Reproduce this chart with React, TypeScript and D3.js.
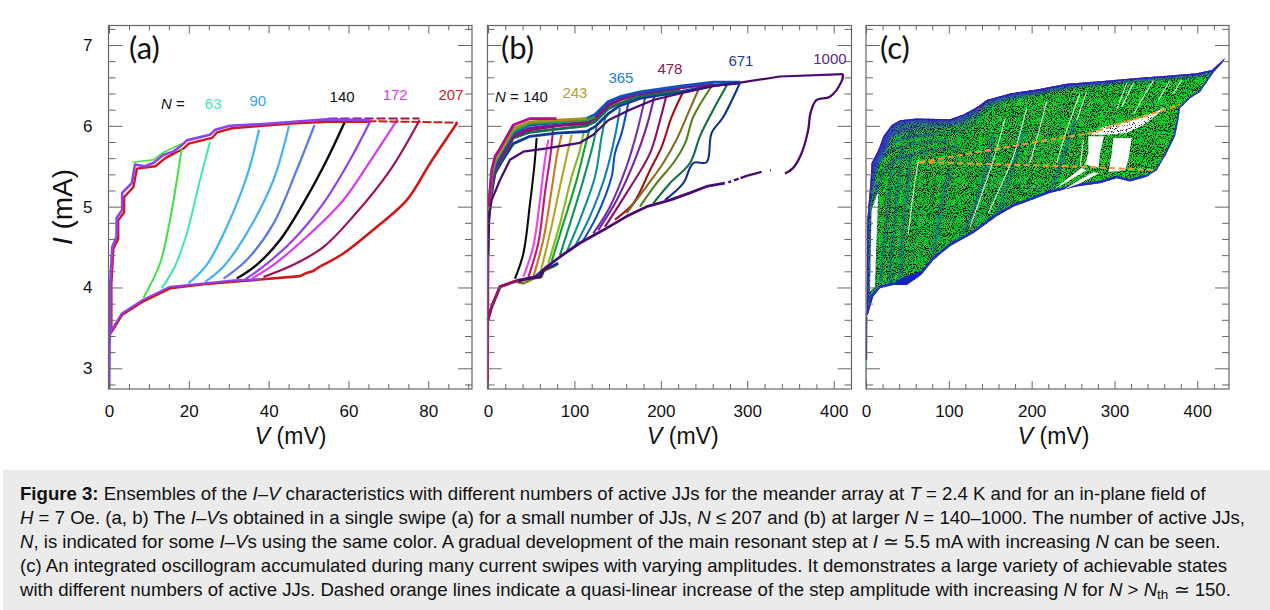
import React, { useRef, useEffect } from "react";
import * as d3 from "d3";

type Pt = [number, number];

// ---- panel (a), [V mV, I mA]
const aBase: Pt[] = [[0.1, 2.75], [0.2, 3.3], [0.3, 3.45]];
const aUpper: Pt[] = [[0.3, 3.45], [0.3, 4.05], [0.8, 4.5], [1.9, 4.63], [1.9, 4.86], [3.3, 4.96], [3.3, 5.17], [5.7, 5.29], [6.5, 5.52], [9, 5.5], [11.1, 5.54], [13.6, 5.64], [16, 5.68], [18.2, 5.76], [19.5, 5.82], [25.3, 5.89], [26.6, 5.95], [30.3, 6.0], [37.8, 6.02], [46.2, 6.05], [54.6, 6.08], [65.4, 6.07]];
const aUpperRed: Pt[] = [[0.6, 3.45], [0.6, 4.05], [1.1, 4.48], [2.3, 4.6], [2.3, 4.83], [3.8, 4.93], [3.8, 5.12], [6.1, 5.24], [7, 5.47], [11.6, 5.5], [14.1, 5.6], [18.7, 5.72], [20, 5.78], [25.8, 5.85], [27.1, 5.92], [30.8, 5.97], [38.3, 6.0], [46.7, 6.03], [55, 6.05], [65.4, 6.05]];
const aUpperGreen: Pt[] = [[5.9, 5.55], [11.1, 5.58], [13.6, 5.67], [18.2, 5.78]];
const aLower: Pt[] = [[0.3, 3.45], [1, 3.5], [3.2, 3.68], [8.6, 3.85], [15.3, 4.01], [23.6, 4.05], [31.2, 4.09], [38, 4.1]];
const aLowerRed: Pt[] = [[0.3, 3.43], [1, 3.48], [3.2, 3.66], [8.6, 3.83], [15.3, 3.99], [23.6, 4.04], [31, 4.07], [47.9, 4.14], [49.5, 4.18], [51, 4.2], [52.9, 4.26]];
const aRedRise: Pt[] = [[52.9, 4.26], [58.7, 4.42], [67.1, 4.75], [74.6, 5.08], [80.5, 5.54], [87.3, 6.04]];
const aRedTail: Pt[] = [[62, 6.06], [87.3, 6.04]];
const aMaroonTail: Pt[] = [[55, 6.09], [77.8, 6.09]];
const a40: Pt[] = [[8.6, 3.87], [12.8, 4.3], [15.3, 4.84], [17, 5.33], [18.2, 5.72]];
const a63: Pt[] = [[13.2, 3.99], [16.5, 4.26], [19.5, 4.67], [22.8, 5.33], [25.3, 5.8]];
const a90: Pt[] = [[19.9, 4.05], [24.5, 4.28], [29.5, 4.75], [34.5, 5.37], [37.6, 5.95]];
const a105: Pt[] = [[24.1, 4.07], [28.7, 4.26], [34.5, 4.67], [41.2, 5.33], [45.1, 6.0]];
const a120: Pt[] = [[28.7, 4.11], [34.5, 4.34], [41.2, 4.79], [47, 5.45], [51.5, 6.01]];
const a140: Pt[] = [[32, 4.11], [37, 4.28], [42.9, 4.59], [49.6, 5.12], [54.6, 5.58], [59, 6.04]];
const a155: Pt[] = [[34.1, 4.1], [38.7, 4.26], [46.2, 4.59], [53.7, 5.04], [60.4, 5.58], [65.4, 6.05]];
const a172: Pt[] = [[35.8, 4.11], [41.2, 4.28], [49.6, 4.63], [58.7, 5.08], [66.2, 5.62], [72.3, 6.08]];
const a190: Pt[] = [[38.7, 4.13], [46.2, 4.28], [53.7, 4.5], [61.2, 4.88], [70.4, 5.45], [77.8, 6.07]];
const aRises: [Pt[], string, number][] = [
  [a40, "#3fe23f", 2], [a63, "#3ce8b0", 2], [a90, "#3fb4f4", 2.2], [a105, "#45b0f5", 2.2], [a120, "#5a78ee", 2.2],
  [a140, "#0a0a0a", 2.4], [a155, "#9040f0", 2.2], [a172, "#d43cf4", 2.2], [a190, "#a01060", 2.2],
];
const aLabels: [string, number, number, string][] = [
  ["63", 26.1, 6.21, "#3ce8b0"], ["90", 37.3, 6.25, "#3aa0f0"], ["140", 58.4, 6.3, "#111"], ["172", 71.7, 6.32, "#d040f0"], ["207", 85.7, 6.32, "#d02030"],
];

// ---- panel (b)
const bandV = [0.8, 4.2, 8.1, 13.9, 19.7, 29.3, 48.6, 79.4, 114.1, 123.8, 139.2, 152.7, 175.8, 222.1, 260.6, 291.5];
const bandLow = [4.84, 5.17, 5.41, 5.52, 5.62, 5.78, 5.87, 5.91, 5.93, 5.99, 6.15, 6.25, 6.34, 6.42, 6.5, 6.53];
const bandGreen = [4.86, 5.23, 5.43, 5.56, 5.66, 5.85, 5.92, 5.96, 6.0, 6.05, 6.21, 6.28, 6.37, 6.44];
const bandMaroon = [4.88, 5.25, 5.45, 5.58, 5.68, 5.87, 5.95, 6.0, 6.03, 6.09, 6.25, 6.32, 6.4, 6.47, 6.52];
const bandPurple = [4.9, 5.29, 5.48, 5.6, 5.7, 5.89, 5.97, 6.01, 6.05, 6.11, 6.28, 6.34, 6.4, 6.47, 6.53];
const bandBlue = [4.92, 5.33, 5.5, 5.64, 5.74, 5.91, 6.01, 6.04, 6.09, 6.14, 6.3, 6.36, 6.42, 6.49, 6.54, 6.54];
const bandLime = [4.94, 5.37, 5.54, 5.66, 5.76, 5.93, 6.03, 6.05, 6.07, 6.11];
const bandOlive = [4.96, 5.41, 5.58, 5.68, 5.78, 5.97, 6.05, 6.07, 6.09];
const bandTop = [5.0, 5.45, 5.62, 5.72, 5.83, 6.01, 6.09, 6.09];
const bBands: [number[], string][] = [
  [bandLow, "#0a3a9a"], [bandGreen, "#107050"], [bandMaroon, "#901060"], [bandPurple, "#7a1a90"],
  [bandBlue, "#1050c0"], [bandLime, "#20a040"], [bandOlive, "#a89020"], [bandTop, "#b0108a"],
];
const b140: Pt[] = [[31.2, 4.11], [40.9, 4.42], [48.6, 5.04], [53.6, 5.5], [56.3, 5.85]];
const b160: Pt[] = [[40.9, 4.13], [52.4, 4.51], [60.1, 5.08], [65.9, 5.58], [69.8, 5.83]];
const b190: Pt[] = [[46.7, 4.13], [58.2, 4.55], [65.9, 5.17], [72.5, 5.66], [76.3, 6.09]];
const b215: Pt[] = [[52.4, 4.13], [64, 4.59], [73.6, 5.21], [80.2, 5.66], [85.2, 5.89]];
const b243: Pt[] = [[59.4, 4.13], [71.7, 4.67], [83.3, 5.25], [91.8, 5.66], [96.8, 5.89]];
const b270: Pt[] = [[69.8, 4.3], [83.3, 4.79], [96.8, 5.37], [106.4, 5.7], [111, 5.95]];
const b290: Pt[] = [[73.6, 4.32], [87.1, 4.79], [102.6, 5.33], [112.2, 5.74], [117.2, 5.95]];
const b310: Pt[] = [[83.3, 4.4], [94.9, 4.79], [110.3, 5.33], [121.8, 5.78], [125.7, 5.99]];
const b340: Pt[] = [[91, 4.44], [106.4, 4.84], [123.8, 5.37], [131.5, 5.87], [136.5, 6.14]];
const b365: Pt[] = [[100.6, 4.51], [118, 4.88], [135.3, 5.37], [146.9, 5.87], [152.7, 6.22]];
const b385: Pt[] = [[108.3, 4.55], [125.7, 4.88], [143, 5.37], [146.9, 5.66], [154.6, 5.91], [162.3, 6.28]];
const b420: Pt[] = [[121.8, 4.67], [141.1, 5.0], [160.4, 5.5], [172, 5.91], [182.4, 6.38]];
const b445: Pt[] = [[127.6, 4.71], [148.8, 5.08], [170, 5.58], [183.5, 5.99], [193.2, 6.4]];
const b478: Pt[] = [[135.3, 4.75], [160.4, 5.17], [187.4, 5.66], [199, 6.07], [207.4, 6.42]];
const b510: Pt[] = [[146.9, 4.84], [168.1, 5.04], [187.4, 5.45], [200.9, 5.74], [212.5, 6.11], [226.7, 6.44]];
const b560: Pt[] = [[160.4, 4.92], [183.5, 5.25], [202.8, 5.54], [218.2, 5.83], [231.7, 6.16], [245.2, 6.49]];
const b600: Pt[] = [[175.8, 5.0], [195.1, 5.29], [214.4, 5.54], [227.9, 5.78], [237.5, 6.11], [258.7, 6.49]];
const b635: Pt[] = [[191.2, 5.04], [210.5, 5.29], [233.7, 5.54], [245.2, 5.87], [258.7, 6.16], [276.8, 6.51]];
const b671: Pt[] = [[204.7, 5.08], [226, 5.29], [237.5, 5.54], [252.9, 5.55], [258.7, 5.91], [272.2, 6.11], [291.5, 6.53]];
const bRises: [Pt[], string][] = [
  [b140, "#0a0a0a"], [b160, "#f040f0"], [b190, "#c01870"], [b215, "#c87820"], [b243, "#b0a820"],
  [b270, "#88b820"], [b290, "#10a030"], [b310, "#109060"], [b340, "#109090"], [b365, "#1080b0"],
  [b385, "#1050c0"], [b420, "#7030b0"], [b445, "#8020a0"], [b478, "#901060"], [b510, "#a01010"],
  [b560, "#807020"], [b600, "#508018"], [b635, "#107040"], [b671, "#103090"],
];
const bVertical: Pt[] = [[0.3, 2.75], [0.4, 3.6], [0.6, 4.2], [0.8, 4.75]];
const b1000Up: Pt[] = [[0.3, 4.4], [1.5, 4.9], [4.2, 5.08], [13.9, 5.33], [25.4, 5.58], [40.9, 5.68], [67.9, 5.72], [106.4, 5.79], [121.8, 5.89], [139.2, 6.07], [164.3, 6.2], [191.2, 6.32], [222.1, 6.4], [260.6, 6.49], [295.4, 6.54], [337.8, 6.61], [411, 6.64]];
const b1000Down: Pt[] = [[411, 6.64], [409.1, 6.55], [395.6, 6.36], [380.2, 6.32], [373.2, 6.16], [370.5, 5.95], [362.8, 5.66], [353.2, 5.48], [343.6, 5.41]];
const b1000Scrap: Pt[] = [[316.6, 5.43], [299.2, 5.38], [278, 5.3]];
const b1000Dot: Pt[] = [[326.2, 5.45], [327.2, 5.45]];
const b1000Low: Pt[] = [[274, 5.29], [252.9, 5.25], [233.7, 5.17], [210.5, 5.08], [183.5, 5.0], [160.4, 4.88], [133.4, 4.71], [106.4, 4.55], [83.3, 4.38], [65.9, 4.24], [60.1, 4.13], [35.1, 4.09], [13.9, 4.01], [4.2, 3.76], [0, 3.6]];
const bWiggleNavy: Pt[] = [[35.1, 4.07], [44.7, 4.11], [54.4, 4.13], [64, 4.22], [73.6, 4.26], [81.4, 4.3]];
const bWiggleOlive: Pt[] = [[33.2, 4.07], [40.9, 4.05], [52.4, 4.11], [62.1, 4.13], [64, 4.2], [79.4, 4.28]];
const bLabels: [string, number, number, string][] = [
  ["243", 100.6, 6.35, "#b0a030"], ["365", 153.8, 6.53, "#2080c0"], ["478", 210.5, 6.64, "#8a1a50"], ["671", 292.7, 6.74, "#1a3a9a"], ["1000", 395.6, 6.77, "#5a2a80"],
];

// ---- panel (c)
const cEdgeTop: Pt[] = [[0.8, 3.64], [1.6, 4.84], [5.6, 5.33], [6.8, 5.54], [14.9, 5.7], [20.9, 5.87], [31, 6.01], [41.1, 6.07], [61.2, 6.09], [101.4, 6.08], [117.6, 6.14], [133.7, 6.23], [145.7, 6.32], [173.9, 6.4], [206.1, 6.45], [242.4, 6.52], [282.6, 6.55], [322.9, 6.59], [363.1, 6.62], [399.4, 6.65], [417.5, 6.69], [433.6, 6.84]];
const cEdgeRight: Pt[] = [[433.6, 6.84], [429.5, 6.77], [419.5, 6.66], [403.4, 6.42], [391.3, 6.34], [379.2, 6.22], [377.2, 6.07], [373.2, 5.87], [363.1, 5.66], [351, 5.45], [339, 5.37]];
const cEdgeLow: Pt[] = [[339, 5.37], [318.8, 5.31], [302.7, 5.35], [282.6, 5.29], [254.4, 5.25], [222.2, 5.17], [194, 5.06], [177.9, 5.0], [157.8, 4.88], [129.6, 4.67], [101.4, 4.51], [81.3, 4.34], [67.2, 4.16], [49.1, 4.03], [33, 4.03], [16.9, 3.99], [8.9, 3.89], [2.8, 3.68], [0.8, 3.64]];
const cBlob: Pt[] = [[35, 4.07], [45.1, 4.13], [67.2, 4.2], [63.2, 4.11], [49.1, 4.03], [37, 4.03]];
const cStem: Pt[] = [[0.5, 3.1], [0.6, 3.45], [0.8, 3.64]];
const cStemPale: Pt[] = [[0.5, 2.75], [0.5, 3.1]];
const cStreaks: Pt[][] = [
  [[8.9, 3.95], [12.9, 5.3]],
  [[16.9, 4.01], [22.9, 4.63], [29, 5.25], [33, 5.58]],
  [[28, 4.03], [33, 4.7], [40, 5.35], [44, 5.72]],
  [[41.1, 4.09], [45.1, 4.75], [51.1, 5.37], [53.1, 5.66]],
  [[81.3, 4.34], [89.4, 4.92], [101.4, 5.45]],
  [[117.6, 4.67], [133.7, 5.08], [145.7, 5.5], [153.8, 5.87]],
  [[157.8, 4.88], [177.9, 5.5], [190, 5.95]],
  [[222.2, 5.17], [238.3, 5.62], [254.4, 6.07]],
];
const cRibs: Pt[][] = [
  [[6.8, 5.54], [31, 5.91], [61.2, 5.99]],
  [[5.6, 5.37], [20.9, 5.72], [49.1, 5.85], [85.3, 5.89]],
  [[6.8, 5.25], [20.9, 5.62], [49.1, 5.76], [101.4, 5.81]],
  [[12.9, 5.21], [29, 5.54], [61.2, 5.66], [109.5, 5.74]],
];
const cHoleSliver: Pt[] = [[4.8, 3.95], [6.8, 4.96], [14.9, 5.19], [12.1, 4.42], [10.9, 4.01]];
const cHoleBand: Pt[] = [[268.5, 5.89], [286.6, 5.99], [314.8, 6.05], [334.9, 6.11], [361.1, 6.23], [343, 6.07], [330.9, 5.99], [314.8, 5.91], [294.7, 5.89], [278.6, 5.89]];
const cHoleLeft: Pt[] = [[268.5, 5.87], [287.4, 5.87], [282.6, 5.66], [280.6, 5.48], [264.5, 5.52], [268.5, 5.66]];
const cHoleRight: Pt[] = [[298.7, 5.85], [320.9, 5.85], [316.8, 5.58], [312.8, 5.45], [292.7, 5.43], [296.7, 5.66]];
const cHoleWedgeA: Pt[] = [[226.2, 5.21], [260.5, 5.48], [266.5, 5.45], [246.4, 5.33]];
const cHoleWedgeB: Pt[] = [[238.3, 5.21], [274.6, 5.43], [280.6, 5.41], [258.5, 5.29]];
const cWhiteLines: Pt[][] = [
  [[63.2, 5.58], [57.2, 5.17], [51.1, 4.67]],
  [[194, 6.22], [186, 5.91], [177.9, 5.62], [165.9, 5.33], [147.7, 4.92]],
  [[167.9, 6.09], [153.8, 5.58], [125.6, 4.75]],
  [[218.2, 6.3], [208.1, 5.91], [198, 5.54]],
  [[258.5, 6.4], [242.4, 5.95], [230.3, 5.54]],
  [[266.5, 6.42], [254.4, 6.07]],
  [[314.8, 6.53], [302.7, 6.2]],
  [[347, 6.56], [334.9, 6.36], [322.9, 6.14]],
  [[366.3, 6.55], [353.1, 6.32]],
  [[381.2, 6.57], [371.2, 6.4]],
  [[322.9, 6.53], [308.8, 6.24]],
  [[262.5, 5.83], [258.5, 5.5]],
];
const cStepTop: Pt[] = [[64.4, 5.55], [177.9, 5.75], [270.5, 5.91], [379.2, 6.26]];
const cStepLow: Pt[] = [[64.4, 5.55], [173.9, 5.52], [270.5, 5.49], [351, 5.45]];

const iMajor = [3, 4, 5, 6, 7];
const iMinor = [2.8, 3.2, 3.4, 3.6, 3.8, 4.2, 4.4, 4.6, 4.8, 5.2, 5.4, 5.6, 5.8, 6.2, 6.4, 6.6, 6.8, 7.2];
const aVMajor = [0, 20, 40, 60, 80];
const aVMinor = [5, 10, 15, 25, 30, 35, 45, 50, 55, 65, 70, 75, 85, 90];
const bVMajor = [0, 100, 200, 300, 400];
const bVMinor = [20, 40, 60, 80, 120, 140, 160, 180, 220, 240, 260, 280, 320, 340, 360, 380, 420];
const cVMinor = [20, 40, 60, 80, 120, 140, 160, 180, 220, 240, 260, 280, 320, 340, 360, 380, 420];

const captionLines: [string, string][][] = [
  [["b", "Figure 3:"], ["", " Ensembles of the "], ["i", "I–V"], ["", " characteristics with different numbers of active JJs for the meander array at "], ["i", "T"], ["", " = 2.4 K and for an in-plane field of"]],
  [["i", "H"], ["", " = 7 Oe. (a, b) The "], ["i", "I–V"], ["", "s obtained in a single swipe (a) for a small number of JJs, "], ["i", "N"], ["", " ≤ 207 and (b) at larger "], ["i", "N"], ["", " = 140–1000. The number of active JJs,"]],
  [["i", "N"], ["", ", is indicated for some "], ["i", "I–V"], ["", "s using the same color. A gradual development of the main resonant step at "], ["i", "I"], ["", " ≃ 5.5 mA with increasing "], ["i", "N"], ["", " can be seen."]],
  [["", "(c) An integrated oscillogram accumulated during many current swipes with varying amplitudes. It demonstrates a large variety of achievable states"]],
  [["", "with different numbers of active JJs. Dashed orange lines indicate a quasi-linear increase of the step amplitude with increasing "], ["i", "N"], ["", " for "], ["i", "N"], ["", " > "], ["i", "N"], ["s", "th"], ["", " ≃ 150."]],
];

const FONT = "'Liberation Sans', Arial, sans-serif";
const H = 610, W = 1270;

const App = () => {
  const ref = useRef<SVGSVGElement>(null);

  useEffect(() => {
    const svg = d3.select(ref.current);
    svg.selectAll("*").remove();
    svg.append("rect").attr("width", W).attr("height", H).attr("fill", "#fff");

    const defs = svg.append("defs");
    // black speckle of the accumulated oscillogram
    const addSpeckle = (id: string, gain: number, cut: number, seed: number) => {
      const f = defs.append("filter").attr("id", id)
        .attr("filterUnits", "userSpaceOnUse").attr("x", 860).attr("y", 20).attr("width", 380).attr("height", 380)
        .attr("color-interpolation-filters", "sRGB");
      f.append("feTurbulence").attr("type", "fractalNoise").attr("baseFrequency", 0.95).attr("numOctaves", 2).attr("seed", seed);
      f.append("feColorMatrix").attr("type", "matrix")
        .attr("values", `0 0 0 0 0  0 0 0 0 0  0 0 0 0 0  ${gain} 0 0 0 ${cut}`);
      f.append("feGaussianBlur").attr("stdDeviation", 0.35);
    };
    addSpeckle("speckle", 7, -3.45, 7);
    addSpeckle("sparse", 9, -5.4, 3);
    defs.append("filter").attr("id", "soft").append("feGaussianBlur").attr("stdDeviation", 1);

    const yOf = d3.scaleLinear().domain([3, 7]).range([368.3, 45]);
    const frameTop = 25.5, frameBottom = 389;

    const panel = (left: number, right: number, x: d3.ScaleLinear<number, number>, major: number[], minor: number[], tag: string, tagX: number, showI: boolean) => {
      const g = svg.append("g");
      const marks = g.append("g");
      const ax = g.append("g").attr("font-family", FONT);
      const style = (s: any) => {
        s.select(".domain").remove();
        s.selectAll("line").attr("stroke", "#666").attr("stroke-width", 1);
      };
      ax.append("g").attr("transform", `translate(0,${frameBottom})`)
        .call(d3.axisBottom(x).tickValues(major).tickSize(-8).tickFormat(d3.format("d") as any)).call(style)
        .call((s: any) => s.selectAll("text").attr("font-family", FONT).attr("font-size", 17).attr("fill", "#111").attr("y", 16).attr("dy", "0.71em"));
      ax.append("g").attr("transform", `translate(0,${frameBottom})`)
        .call(d3.axisBottom(x).tickValues(minor).tickSize(-5).tickFormat(() => "")).call(style);
      ax.append("g").attr("transform", `translate(0,${frameTop})`)
        .call(d3.axisTop(x).tickValues(major).tickSize(-8).tickFormat(() => "")).call(style);
      ax.append("g").attr("transform", `translate(0,${frameTop})`)
        .call(d3.axisTop(x).tickValues(minor).tickSize(-5).tickFormat(() => "")).call(style);
      ax.append("g").attr("transform", `translate(${left},0)`)
        .call(d3.axisLeft(yOf).tickValues(iMajor).tickSize(-14).tickFormat(showI ? (d3.format("d") as any) : () => "")).call(style)
        .call((s: any) => s.selectAll("text").attr("font-family", FONT).attr("font-size", 17).attr("fill", "#111").attr("x", -16));
      ax.append("g").attr("transform", `translate(${left},0)`)
        .call(d3.axisLeft(yOf).tickValues(iMinor).tickSize(-7).tickFormat(() => "")).call(style);
      ax.append("g").attr("transform", `translate(${right},0)`)
        .call(d3.axisRight(yOf).tickValues(iMajor).tickSize(-14).tickFormat(() => "")).call(style);
      ax.append("g").attr("transform", `translate(${right},0)`)
        .call(d3.axisRight(yOf).tickValues(iMinor).tickSize(-7).tickFormat(() => "")).call(style);
      ax.append("rect").attr("x", left).attr("y", frameTop).attr("width", right - left).attr("height", frameBottom - frameTop)
        .attr("fill", "none").attr("stroke", "#666").attr("stroke-width", 1.2);

      g.append("text").attr("x", tagX).attr("y", 59).attr("font-family", "Lato, 'Open Sans', sans-serif")
        .attr("font-size", 31).attr("fill", "#111").text(tag);

      const title = g.append("text").attr("x", x(major[2]) + 22).attr("y", 444).attr("text-anchor", "middle")
        .attr("font-family", FONT).attr("font-size", 23).attr("fill", "#111");
      title.append("tspan").attr("font-style", "italic").text("V");
      title.append("tspan").text(" (mV)");

      const line = d3.line<Pt>().x(d => x(d[0])).y(d => yOf(d[1]));
      const smooth = d3.line<Pt>().x(d => x(d[0])).y(d => yOf(d[1])).curve(d3.curveCatmullRom.alpha(0.5));
      const draw = (pts: Pt[], color: string, w: number, gen = line, dash?: string) =>
        marks.append("path").attr("d", gen(pts)).attr("fill", "none").attr("stroke", color).attr("stroke-width", w)
          .attr("stroke-linejoin", "round").attr("stroke-dasharray", dash ?? null);
      return { g, marks, x, line, smooth, draw };
    };

    const label = (g: any, x: any, t: string, v: number, i: number, color: string, anchor = "middle") =>
      g.append("text").attr("x", x(v)).attr("y", yOf(i)).attr("text-anchor", anchor)
        .attr("font-family", FONT).attr("font-size", 15).attr("fill", color).text(t);

    const nLabel = (g: any, x: any, v: number, i: number, rest: string) => {
      const t = g.append("text").attr("x", x(v)).attr("y", yOf(i)).attr("font-family", FONT).attr("font-size", 15).attr("fill", "#111");
      t.append("tspan").attr("font-style", "italic").text("N");
      t.append("tspan").text(rest);
    };

    // panel (a)
    const xa = d3.scaleLinear().domain([0, 80]).range([109, 428.3]);
    const pa = panel(108.5, 472, xa, aVMajor, aVMinor, "(a)", 129, true);
    pa.draw(aUpperRed, "#d01818", 2.4);
    pa.draw(aUpperGreen, "#3fe23f", 1.6);
    pa.draw(aLowerRed, "#d01818", 2.6);
    aRises.forEach(([pts, color, w]) => pa.draw(pts, color, w, pa.smooth));
    pa.draw(aRedRise, "#d01818", 2.6, pa.smooth);
    pa.draw(aRedTail, "#d01818", 2, pa.line, "9 2");
    pa.draw(aMaroonTail, "#a01060", 2, pa.line, "9 3");
    pa.draw(aBase, "#9040f0", 2.2);
    pa.draw(aUpper, "#9040f0", 2.6);
    pa.draw(aLower, "#9040f0", 2);
    nLabel(pa.g, xa, 13, 6.21, " =");
    aLabels.forEach(([t, v, i, c]) => label(pa.g, xa, t, v, i, c));

    const iTitle = svg.append("text").attr("transform", "translate(72,207) rotate(-90)").attr("text-anchor", "middle")
      .attr("font-family", FONT).attr("font-size", 28).attr("fill", "#111");
    iTitle.append("tspan").attr("font-style", "italic").text("I");
    iTitle.append("tspan").text(" (mA)");

    // panel (b)
    const xb = d3.scaleLinear().domain([0, 400]).range([488, 833.7]);
    const pb = panel(487.5, 851.5, xb, bVMajor, bVMinor, "(b)", 501, false);
    bRises.forEach(([pts, color]) => pb.draw(pts, color, 2.1, pb.smooth));
    bBands.forEach(([vals, color]) => pb.draw(vals.map((d, k) => [bandV[k], d] as Pt), color, 2.8));
    pb.draw(bVertical, "#b01878", 1.6);
    pb.draw(b1000Up, "#4a0a70", 2.2);
    pb.draw(b1000Down, "#4a0a70", 2.3, pb.smooth);
    pb.draw(b1000Scrap, "#4a0a70", 2.4, pb.line, "22 2 5 3");
    pb.draw(b1000Dot, "#4a0a70", 2);
    pb.draw(bWiggleOlive, "#808018", 2.6);
    pb.draw(bWiggleNavy, "#103090", 2.8);
    pb.draw(b1000Low, "#4a0a70", 2.8);
    pb.draw(b1000Low.slice(-4), "#a01060", 2.8);
    nLabel(pb.g, xb, 8.1, 6.29, " = 140");
    bLabels.forEach(([t, v, i, c]) => label(pb.g, xb, t, v, i, c));

    // panel (c)
    const xc = d3.scaleLinear().domain([0, 400]).range([866, 1197.3]);
    const pc = panel(866, 1229, xc, bVMajor, cVMinor, "(c)", 880, false);
    const envelope = [...cEdgeTop, ...cEdgeRight, ...cEdgeLow];
    defs.append("clipPath").attr("id", "cloud").append("path").attr("d", pc.line(envelope));
    const cl = pc.marks.append("g").attr("clip-path", "url(#cloud)");
    const inCloud = (pts: Pt[], color: string, w: number, op = 1, gen = pc.line, parent: any = cl) =>
      parent.append("path").attr("d", gen(pts)).attr("fill", "none").attr("stroke", color).attr("stroke-width", w)
        .attr("stroke-opacity", op).attr("stroke-linejoin", "round");
    const fillShape = (parent: any, pts: Pt[], color: string) =>
      parent.append("path").attr("d", pc.line(pts) + "Z").attr("fill", color);

    fillShape(cl, envelope, "#14d828");
    cl.append("rect").attr("x", 860).attr("y", 20).attr("width", 380).attr("height", 380).attr("fill", "#000").attr("filter", "url(#speckle)");
    const haze = cl.append("g").attr("filter", "url(#soft)");
    bRises.forEach(([pts]) => inCloud(pts, "#1c46c8", 1.2, 0.3, pc.smooth, haze));
    cStreaks.forEach(pts => inCloud(pts, "#1a48c8", 3.5, 0.45, pc.smooth, haze));
    cRibs.forEach(pts => inCloud(pts, "#3a28d0", 2, 0.6, pc.smooth, haze));
    bBands.forEach(([vals], n) => inCloud(vals.map((d, k) => [bandV[k], d] as Pt), n % 2 ? "#5a20d0" : "#1c46c8", 1.5, 0.6, pc.line, haze));
    inCloud(cEdgeTop, "#2a30c8", 9, 0.5, pc.line, haze);
    inCloud(cEdgeTop, "#3a18c0", 3, 1);
    inCloud(cEdgeRight, "#2a30c8", 3.5, 0.9);
    inCloud(cEdgeLow, "#2428c8", 5, 1);
    fillShape(cl, cBlob, "#1424c0");

    const holes = pc.marks.append("g");
    [cHoleSliver, cHoleBand, cHoleLeft, cHoleRight, cHoleWedgeA, cHoleWedgeB].forEach(pts => fillShape(holes, pts, "#fff"));
    defs.append("clipPath").attr("id", "bandClip").append("path").attr("d", pc.line(cHoleBand) + "Z");
    holes.append("rect").attr("x", 860).attr("y", 20).attr("width", 380).attr("height", 380).attr("fill", "#000")
      .attr("filter", "url(#sparse)").attr("clip-path", "url(#bandClip)");
    cWhiteLines.forEach(pts => pc.draw(pts, "#fff", 1.1, pc.smooth).attr("stroke-opacity", 0.85));
    pc.draw(cStem, "#2a30c8", 1.6);
    pc.draw(cStemPale, "#a0e8a0", 1.4);
    pc.draw(cStepTop, "#f09a30", 2.2, pc.line, "6 3.5");
    pc.draw(cStepLow, "#f09a30", 2.2, pc.line, "6 3.5");

    // caption
    svg.append("rect").attr("x", 3).attr("y", 470).attr("width", W - 3).attr("height", H - 470).attr("fill", "#ebebeb");
    const baselines = [500, 524, 548, 572, 596];
    captionLines.forEach((runs, n) => {
      const t = svg.append("text").attr("x", 20).attr("y", baselines[n]).attr("font-family", FONT).attr("font-size", 18.6).attr("fill", "#111");
      runs.forEach(([kind, s]) => {
        const sp = t.append("tspan").text(s);
        if (kind === "b") sp.attr("font-weight", "bold");
        if (kind === "i") sp.attr("font-style", "italic");
        if (kind === "s") sp.attr("baseline-shift", "-3").attr("font-size", 13.5);
      });
    });
  }, []);

  return <svg ref={ref} width={W} height={H} style={{ position: "absolute", left: 0, top: 0, display: "block", whiteSpace: "pre" }} />;
};

export default App;
